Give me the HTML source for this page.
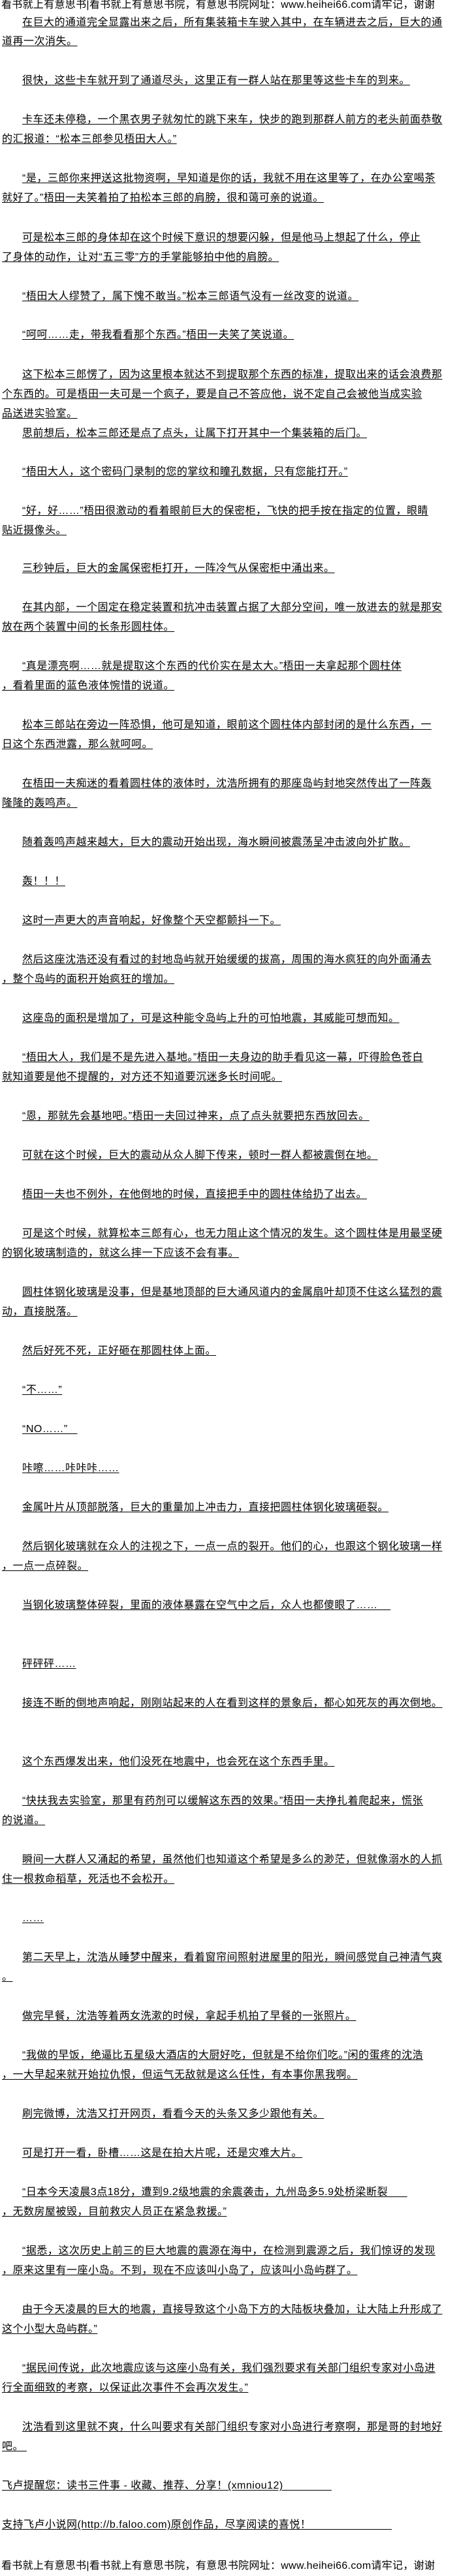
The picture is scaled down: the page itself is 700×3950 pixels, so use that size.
<!DOCTYPE html>
<html><head><meta charset="utf-8">
<style>
html,body{margin:0;padding:0;background:#fff;}
body{width:700px;height:3950px;position:relative;overflow:hidden;font-family:"Liberation Sans","Noto Sans CJK SC",sans-serif;color:#000;}
.l{position:absolute;left:3px;font-size:16px;line-height:20px;letter-spacing:0.5px;white-space:nowrap;text-decoration:underline;text-underline-offset:2px;}
.i{left:34px;}
.h{position:absolute;left:2px;font-size:16px;line-height:20px;white-space:nowrap;letter-spacing:0.3px;}
</style></head><body>
<div class="h" style="top:-2px">看书就上有意思书|看书就上有意思书院，有意思书院网址：www.heihei66.com请牢记，谢谢</div>

<div class="l i" style="top:25px">在巨大的通道完全显露出来之后，所有集装箱卡车驶入其中，在车辆进去之后，巨大的通</div>
<div class="l" style="top:54px">道再一次消失。</div>
<div class="l i" style="top:114px">很快，这些卡车就开到了通道尽头，这里正有一群人站在那里等这些卡车的到来。</div>
<div class="l i" style="top:174px">卡车还未停稳，一个黑衣男子就匆忙的跳下来车，快步的跑到那群人前方的老头前面恭敬</div>
<div class="l" style="top:204px">的汇报道：“松本三郎参见梧田大人。”</div>
<div class="l i" style="top:264px">“是，三郎你来押送这批物资啊，早知道是你的话，我就不用在这里等了，在办公室喝茶</div>
<div class="l" style="top:294px">就好了。”梧田一夫笑着拍了拍松本三郎的肩膀，很和蔼可亲的说道。</div>
<div class="l i" style="top:355px">可是松本三郎的身体却在这个时候下意识的想要闪躲，但是他马上想起了什么，停止</div>
<div class="l" style="top:385px">了身体的动作，让对“五三零”方的手掌能够拍中他的肩膀。</div>
<div class="l i" style="top:445px">“梧田大人缪赞了，属下愧不敢当。”松本三郎语气没有一丝改变的说道。</div>
<div class="l i" style="top:504px">“呵呵……走，带我看看那个东西。”梧田一夫笑了笑说道。</div>
<div class="l i" style="top:565px">这下松本三郎愣了，因为这里根本就达不到提取那个东西的标准，提取出来的话会浪费那</div>
<div class="l" style="top:595px">个东西的。可是梧田一夫可是一个疯子，要是自己不答应他，说不定自己会被他当成实验</div>
<div class="l" style="top:625px">品送进实验室。</div>
<div class="l i" style="top:655px">思前想后，松本三郎还是点了点头，让属下打开其中一个集装箱的后门。</div>
<div class="l i" style="top:714px">“梧田大人，这个密码门录制的您的掌纹和瞳孔数据，只有您能打开。”</div>
<div class="l i" style="top:774px">“好，好……”梧田很激动的看着眼前巨大的保密柜，飞快的把手按在指定的位置，眼睛</div>
<div class="l" style="top:804px">贴近摄像头。</div>
<div class="l i" style="top:862px">三秒钟后，巨大的金属保密柜打开，一阵冷气从保密柜中涌出来。</div>
<div class="l i" style="top:922px">在其内部，一个固定在稳定装置和抗冲击装置占据了大部分空间，唯一放进去的就是那安</div>
<div class="l" style="top:952px">放在两个装置中间的长条形圆柱体。</div>
<div class="l i" style="top:1012px">“真是漂亮啊……就是提取这个东西的代价实在是太大。”梧田一夫拿起那个圆柱体</div>
<div class="l" style="top:1042px">，看着里面的蓝色液体惋惜的说道。</div>
<div class="l i" style="top:1102px">松本三郎站在旁边一阵恐惧，他可是知道，眼前这个圆柱体内部封闭的是什么东西，一</div>
<div class="l" style="top:1132px">日这个东西泄露，那么就呵呵。</div>
<div class="l i" style="top:1192px">在梧田一夫痴迷的看着圆柱体的液体时，沈浩所拥有的那座岛屿封地突然传出了一阵轰</div>
<div class="l" style="top:1222px">隆隆的轰鸣声。</div>
<div class="l i" style="top:1282px">随着轰鸣声越来越大，巨大的震动开始出现，海水瞬间被震荡呈冲击波向外扩散。</div>
<div class="l i" style="top:1342px">轰！！！</div>
<div class="l i" style="top:1402px">这时一声更大的声音响起，好像整个天空都颤抖一下。</div>
<div class="l i" style="top:1462px">然后这座沈浩还没有看过的封地岛屿就开始缓缓的拔高，周围的海水疯狂的向外面涌去</div>
<div class="l" style="top:1492px">，整个岛屿的面积开始疯狂的增加。</div>
<div class="l i" style="top:1552px">这座岛的面积是增加了，可是这种能令岛屿上升的可怕地震，其威能可想而知。</div>
<div class="l i" style="top:1612px">“梧田大人，我们是不是先进入基地。”梧田一夫身边的助手看见这一幕，吓得脸色苍白</div>
<div class="l" style="top:1642px">就知道要是他不提醒的，对方还不知道要沉迷多长时间呢。</div>
<div class="l i" style="top:1702px">“恩，那就先会基地吧。”梧田一夫回过神来，点了点头就要把东西放回去。</div>
<div class="l i" style="top:1762px">可就在这个时候，巨大的震动从众人脚下传来，顿时一群人都被震倒在地。</div>
<div class="l i" style="top:1822px">梧田一夫也不例外，在他倒地的时候，直接把手中的圆柱体给扔了出去。</div>
<div class="l i" style="top:1882px">可是这个时候，就算松本三郎有心，也无力阻止这个情况的发生。这个圆柱体是用最坚硬</div>
<div class="l" style="top:1912px">的钢化玻璃制造的，就这么摔一下应该不会有事。</div>
<div class="l i" style="top:1972px">圆柱体钢化玻璃是没事，但是基地顶部的巨大通风道内的金属扇叶却顶不住这么猛烈的震</div>
<div class="l" style="top:2002px">动，直接脱落。</div>
<div class="l i" style="top:2062px">然后好死不死，正好砸在那圆柱体上面。</div>
<div class="l i" style="top:2122px">“不……”</div>
<div class="l i" style="top:2182px">“NO……”&nbsp;&nbsp;&nbsp;</div>
<div class="l i" style="top:2242px">咔嚓……咔咔咔……</div>
<div class="l i" style="top:2302px">金属叶片从顶部脱落，巨大的重量加上冲击力，直接把圆柱体钢化玻璃砸裂。</div>
<div class="l i" style="top:2362px">然后钢化玻璃就在众人的注视之下，一点一点的裂开。他们的心，也跟这个钢化玻璃一样</div>
<div class="l" style="top:2392px">，一点一点碎裂。</div>
<div class="l i" style="top:2452px">当钢化玻璃整体碎裂，里面的液体暴露在空气中之后，众人也都傻眼了……&nbsp;&nbsp;&nbsp;&nbsp;</div>
<div class="l i" style="top:2542px">砰砰砰……</div>
<div class="l i" style="top:2602px">接连不断的倒地声响起，刚刚站起来的人在看到这样的景象后，都心如死灰的再次倒地。</div>
<div class="l i" style="top:2692px">这个东西爆发出来，他们没死在地震中，也会死在这个东西手里。</div>
<div class="l i" style="top:2752px">“快扶我去实验室，那里有药剂可以缓解这东西的效果。”梧田一夫挣扎着爬起来，慌张</div>
<div class="l" style="top:2782px">的说道。</div>
<div class="l i" style="top:2842px">瞬间一大群人又涌起的希望，虽然他们也知道这个希望是多么的渺茫，但就像溺水的人抓</div>
<div class="l" style="top:2872px">住一根救命稻草，死活也不会松开。</div>
<div class="l i" style="top:2932px">……</div>
<div class="l i" style="top:2992px">第二天早上，沈浩从睡梦中醒来，看着窗帘间照射进屋里的阳光，瞬间感觉自己神清气爽</div>
<div class="l" style="top:3022px">。</div>
<div class="l i" style="top:3082px">做完早餐，沈浩等着两女洗漱的时候，拿起手机拍了早餐的一张照片。</div>
<div class="l i" style="top:3142px">“我做的早饭，绝逼比五星级大酒店的大厨好吃，但就是不给你们吃。”闲的蛋疼的沈浩</div>
<div class="l" style="top:3172px">，一大早起来就开始拉仇恨，但运气无敌就是这么任性，有本事你黑我啊。</div>
<div class="l i" style="top:3232px">刷完微博，沈浩又打开网页，看看今天的头条又多少跟他有关。</div>
<div class="l i" style="top:3292px">可是打开一看，卧槽……这是在拍大片呢，还是灾难大片。</div>
<div class="l i" style="top:3352px">“日本今天凌晨3点18分，遭到9.2级地震的余震袭击，九州岛多5.9处桥梁断裂&nbsp;&nbsp;&nbsp;&nbsp;&nbsp;&nbsp;</div>
<div class="l" style="top:3382px">，无数房屋被毁，目前救灾人员正在紧急救援。”</div>
<div class="l i" style="top:3442px">“据悉，这次历史上前三的巨大地震的震源在海中，在检测到震源之后，我们惊讶的发现</div>
<div class="l" style="top:3472px">，原来这里有一座小岛。不到，现在不应该叫小岛了，应该叫小岛屿群了。</div>
<div class="l i" style="top:3532px">由于今天凌晨的巨大的地震，直接导致这个小岛下方的大陆板块叠加，让大陆上升形成了</div>
<div class="l" style="top:3562px">这个小型大岛屿群。”</div>
<div class="l i" style="top:3622px">“据民间传说，此次地震应该与这座小岛有关，我们强烈要求有关部门组织专家对小岛进</div>
<div class="l" style="top:3652px">行全面细致的考察，以保证此次事件不会再次发生。”</div>
<div class="l i" style="top:3712px">沈浩看到这里就不爽，什么叫要求有关部门组织专家对小岛进行考察啊，那是哥的封地好</div>
<div class="l" style="top:3742px">吧。&nbsp;</div>
<div class="l" style="top:3802px">飞卢提醒您：读书三件事 - 收藏、推荐、分享！(xmniou12)&nbsp;&nbsp;&nbsp;&nbsp;&nbsp;&nbsp;&nbsp;&nbsp;&nbsp;&nbsp;&nbsp;&nbsp;&nbsp;&nbsp;&nbsp;</div>
<div class="l" style="top:3862px">支持飞卢小说网(http://b.faloo.com)原创作品，尽享阅读的喜悦！&nbsp;&nbsp;&nbsp;&nbsp;&nbsp;&nbsp;&nbsp;&nbsp;&nbsp;&nbsp;&nbsp;&nbsp;&nbsp;&nbsp;&nbsp;&nbsp;&nbsp;&nbsp;&nbsp;&nbsp;&nbsp;&nbsp;&nbsp;&nbsp;&nbsp;</div>

<div class="h" style="top:3925px">看书就上有意思书|看书就上有意思书院，有意思书院网址：www.heihei66.com请牢记，谢谢</div>
</body></html>
